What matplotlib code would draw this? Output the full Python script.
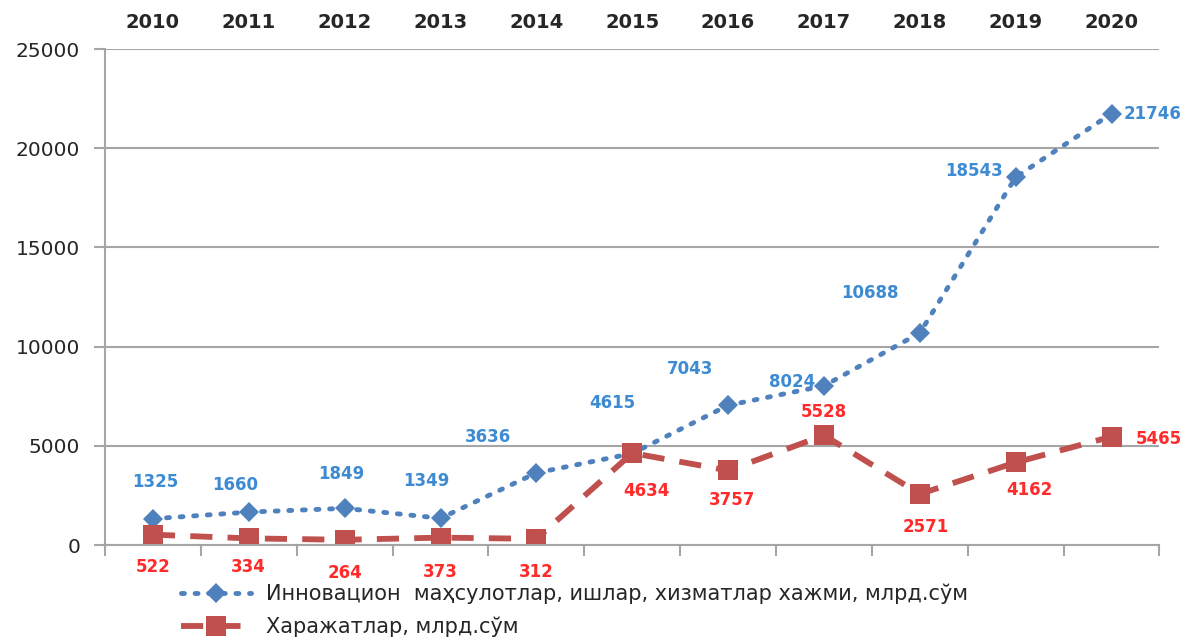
import matplotlib.pyplot as plt

# data
years = [2010, 2011, 2012, 2013, 2014, 2015, 2016, 2017, 2018, 2019, 2020]
innov = [1325, 1660, 1849, 1349, 3636, 4615, 7043, 8024, 10688, 18543, 21746]
costs = [522, 334, 264, 373, 312, 4634, 3757, 5528, 2571, 4162, 5465]

innov_name = "Инновацион  маҳсулотлар, ишлар, хизматлар хажми, млрд.сўм"
costs_name = "Харажатлар, млрд.сўм"

# label offsets in pixels (dx, dy); the 2020 labels are left-aligned
innov_off = [(2, 37), (-14, 27), (-3, 34), (-14, 37), (-48, 36), (-20, 50),
             (-38, 36), (-32, 4), (-50, 40), (-42, 6), (12, 0)]
costs_off = [(0, -32), (0, -29), (0, -33), (0, -34), (0, -33), (14, -38),
             (4, -30), (0, 23), (6, -33), (14, -28), (24, -2)]

blue = "#4F81BD"
red = "#C0504D"
blue_txt = "#3D8BD3"
red_txt = "#FF2A2A"
grid_c = "#A6A6A6"
font = "DejaVu Sans"

fig = plt.figure(figsize=(11.88, 6.37), dpi=100)
ax = fig.add_axes([0.0884, 0.1444, 0.8876, 0.7786])

x = list(range(len(years)))
ax.plot(x, innov, color=blue, linestyle=(0, (0.6, 2.2)), dash_capstyle="round",
        linewidth=3.5, marker="D", markersize=10, markeredgewidth=0, label=innov_name)
ax.plot(x, costs, color=red, linestyle=(0, (3.8, 2.6)), linewidth=4.2,
        marker="s", markersize=15, markeredgewidth=0, label=costs_name)

last = len(years) - 1
for i in x:
    ha = "left" if i == last else "center"
    ax.annotate(str(innov[i]), (i, innov[i]), xytext=innov_off[i], textcoords="offset pixels",
                ha=ha, va="center", color=blue_txt, fontsize=12,
                fontweight="bold", family=font)
    ax.annotate(str(costs[i]), (i, costs[i]), xytext=costs_off[i], textcoords="offset pixels",
                ha=ha, va="center", color=red_txt, fontsize=12,
                fontweight="bold", family=font, annotation_clip=False)

ax.set_xlim(-0.5, len(years) - 0.5)
ax.set_ylim(0, 25000)
ax.set_yticks(range(0, 25001, 5000))
ax.yaxis.grid(True, color=grid_c, linewidth=1.5)
ax.set_axisbelow(True)

# years on top, category separators at the bottom
ax.set_xticks(x)
ax.set_xticklabels([str(y) for y in years], fontsize=14, fontweight="bold",
                   family=font, color="#262626")
ax.xaxis.set_ticks_position("top")
ax.tick_params(axis="x", which="major", length=0, pad=12)
sep = ax.secondary_xaxis("bottom")
sep.set_xticks([i - 0.5 for i in range(len(years) + 1)])
sep.set_xticklabels([])
sep.tick_params(length=8, width=1.5, color=grid_c)
sep.spines["bottom"].set_visible(False)

ax.tick_params(axis="y", length=8, width=1.5, color=grid_c, labelsize=14.5,
               labelcolor="#262626", pad=10)
for t in ax.get_yticklabels():
    t.set_family(font)

for s in ["top", "right"]:
    ax.spines[s].set_visible(False)
for s in ["left", "bottom"]:
    ax.spines[s].set_color(grid_c)
    ax.spines[s].set_linewidth(1.5)

fig.legend(loc="upper left", bbox_to_anchor=(0.145, 0.097), frameon=False,
           handlelength=3.4, handletextpad=0.7, labelspacing=0.6, borderaxespad=0,
           prop={"family": font, "size": 15}, labelcolor="#262626")

fig.savefig("out.png", dpi=100)
